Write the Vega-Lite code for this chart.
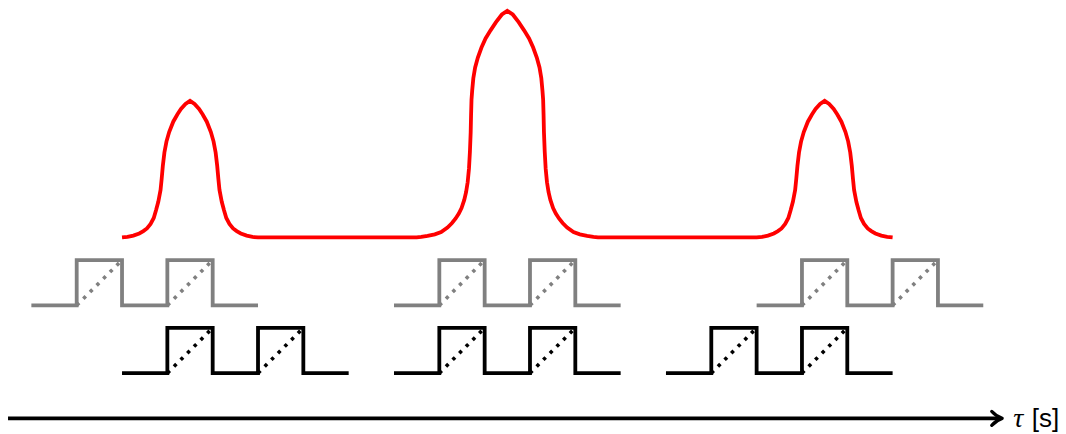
{
  "$schema": "https://vega.github.io/schema/vega-lite/v6.json",
  "width": 1066,
  "height": 434,
  "autosize": {"type": "fit", "contains": "padding"},
  "padding": 0,
  "background": "white",
  "config": {"view": {"stroke": null}},
  "datasets": {
    "red": [
      {"t": -6.0, "v": 3.0}, {"t": -5.88, "v": 3.012}, {"t": -5.75, "v": 3.04}, {"t": -5.62, "v": 3.088},
      {"t": -5.53, "v": 3.14}, {"t": -5.45, "v": 3.2}, {"t": -5.37, "v": 3.3}, {"t": -5.3, "v": 3.43},
      {"t": -5.25, "v": 3.6}, {"t": -5.2, "v": 3.79}, {"t": -5.15, "v": 4.05}, {"t": -5.125, "v": 4.3},
      {"t": -5.1, "v": 4.58}, {"t": -5.065, "v": 4.88}, {"t": -5.02, "v": 5.12}, {"t": -4.96, "v": 5.33},
      {"t": -4.87, "v": 5.56}, {"t": -4.78, "v": 5.72}, {"t": -4.7, "v": 5.84}, {"t": -4.6, "v": 5.95},
      {"t": -4.5, "v": 6.02},
      {"t": -4.4, "v": 5.95}, {"t": -4.3, "v": 5.84}, {"t": -4.22, "v": 5.72}, {"t": -4.13, "v": 5.56},
      {"t": -4.04, "v": 5.33}, {"t": -3.98, "v": 5.12}, {"t": -3.935, "v": 4.88}, {"t": -3.9, "v": 4.58},
      {"t": -3.875, "v": 4.3}, {"t": -3.85, "v": 4.05}, {"t": -3.8, "v": 3.79}, {"t": -3.75, "v": 3.6},
      {"t": -3.7, "v": 3.43}, {"t": -3.63, "v": 3.3}, {"t": -3.55, "v": 3.2}, {"t": -3.47, "v": 3.14},
      {"t": -3.38, "v": 3.088}, {"t": -3.25, "v": 3.04}, {"t": -3.12, "v": 3.012}, {"t": -3.0, "v": 3.0},
      {"t": 0.5, "v": 3.0}, {"t": 0.6, "v": 3.012}, {"t": 0.74, "v": 3.035}, {"t": 0.9, "v": 3.07},
      {"t": 1.04, "v": 3.12}, {"t": 1.18, "v": 3.22}, {"t": 1.28, "v": 3.32}, {"t": 1.36, "v": 3.42},
      {"t": 1.43, "v": 3.53}, {"t": 1.49, "v": 3.65}, {"t": 1.55, "v": 3.83}, {"t": 1.59, "v": 4.0},
      {"t": 1.625, "v": 4.22}, {"t": 1.654, "v": 4.52}, {"t": 1.675, "v": 4.9}, {"t": 1.692, "v": 5.33},
      {"t": 1.7, "v": 5.7}, {"t": 1.71, "v": 6.05}, {"t": 1.725, "v": 6.25}, {"t": 1.75, "v": 6.52},
      {"t": 1.79, "v": 6.76}, {"t": 1.85, "v": 6.98}, {"t": 1.93, "v": 7.2}, {"t": 2.02, "v": 7.4},
      {"t": 2.13, "v": 7.58}, {"t": 2.25, "v": 7.76}, {"t": 2.38, "v": 7.93}, {"t": 2.5, "v": 8.01},
      {"t": 2.62, "v": 7.93}, {"t": 2.75, "v": 7.76}, {"t": 2.87, "v": 7.58}, {"t": 2.98, "v": 7.4},
      {"t": 3.07, "v": 7.2}, {"t": 3.15, "v": 6.98}, {"t": 3.21, "v": 6.76}, {"t": 3.25, "v": 6.52},
      {"t": 3.275, "v": 6.25}, {"t": 3.29, "v": 6.05}, {"t": 3.3, "v": 5.7}, {"t": 3.308, "v": 5.33},
      {"t": 3.325, "v": 4.9}, {"t": 3.346, "v": 4.52}, {"t": 3.375, "v": 4.22}, {"t": 3.41, "v": 4.0},
      {"t": 3.45, "v": 3.83}, {"t": 3.51, "v": 3.65}, {"t": 3.57, "v": 3.53}, {"t": 3.64, "v": 3.42},
      {"t": 3.72, "v": 3.32}, {"t": 3.82, "v": 3.22}, {"t": 3.96, "v": 3.12}, {"t": 4.1, "v": 3.07},
      {"t": 4.26, "v": 3.035}, {"t": 4.4, "v": 3.012}, {"t": 4.5, "v": 3.0},
      {"t": 8.0, "v": 3.0}, {"t": 8.12, "v": 3.012}, {"t": 8.25, "v": 3.04}, {"t": 8.38, "v": 3.088},
      {"t": 8.47, "v": 3.14}, {"t": 8.55, "v": 3.2}, {"t": 8.63, "v": 3.3}, {"t": 8.7, "v": 3.43},
      {"t": 8.75, "v": 3.6}, {"t": 8.8, "v": 3.79}, {"t": 8.85, "v": 4.05}, {"t": 8.875, "v": 4.3},
      {"t": 8.9, "v": 4.58}, {"t": 8.935, "v": 4.88}, {"t": 8.98, "v": 5.12}, {"t": 9.04, "v": 5.33},
      {"t": 9.13, "v": 5.56}, {"t": 9.22, "v": 5.72}, {"t": 9.3, "v": 5.84}, {"t": 9.4, "v": 5.95},
      {"t": 9.5, "v": 6.02},
      {"t": 9.6, "v": 5.95}, {"t": 9.7, "v": 5.84}, {"t": 9.78, "v": 5.72}, {"t": 9.87, "v": 5.56},
      {"t": 9.96, "v": 5.33}, {"t": 10.02, "v": 5.12}, {"t": 10.065, "v": 4.88}, {"t": 10.1, "v": 4.58},
      {"t": 10.125, "v": 4.3}, {"t": 10.15, "v": 4.05}, {"t": 10.2, "v": 3.79}, {"t": 10.25, "v": 3.6},
      {"t": 10.3, "v": 3.43}, {"t": 10.37, "v": 3.3}, {"t": 10.45, "v": 3.2}, {"t": 10.53, "v": 3.14},
      {"t": 10.62, "v": 3.088}, {"t": 10.75, "v": 3.04}, {"t": 10.88, "v": 3.012}, {"t": 11.0, "v": 3.0}
    ],
    "pulses": [
      {"train": "g1", "kind": "gray", "t": -8, "v": 1.5}, {"train": "g1", "kind": "gray", "t": -7, "v": 2.5},
      {"train": "g1", "kind": "gray", "t": -6, "v": 1.5}, {"train": "g1", "kind": "gray", "t": -5, "v": 2.5},
      {"train": "g1", "kind": "gray", "t": -4, "v": 1.5}, {"train": "g1", "kind": "gray", "t": -3, "v": 1.5},
      {"train": "g2", "kind": "gray", "t": 0, "v": 1.5}, {"train": "g2", "kind": "gray", "t": 1, "v": 2.5},
      {"train": "g2", "kind": "gray", "t": 2, "v": 1.5}, {"train": "g2", "kind": "gray", "t": 3, "v": 2.5},
      {"train": "g2", "kind": "gray", "t": 4, "v": 1.5}, {"train": "g2", "kind": "gray", "t": 5, "v": 1.5},
      {"train": "g3", "kind": "gray", "t": 8, "v": 1.5}, {"train": "g3", "kind": "gray", "t": 9, "v": 2.5},
      {"train": "g3", "kind": "gray", "t": 10, "v": 1.5}, {"train": "g3", "kind": "gray", "t": 11, "v": 2.5},
      {"train": "g3", "kind": "gray", "t": 12, "v": 1.5}, {"train": "g3", "kind": "gray", "t": 13, "v": 1.5},
      {"train": "b1", "kind": "black", "t": -6, "v": 0}, {"train": "b1", "kind": "black", "t": -5, "v": 1},
      {"train": "b1", "kind": "black", "t": -4, "v": 0}, {"train": "b1", "kind": "black", "t": -3, "v": 1},
      {"train": "b1", "kind": "black", "t": -2, "v": 0}, {"train": "b1", "kind": "black", "t": -1, "v": 0},
      {"train": "b2", "kind": "black", "t": 0, "v": 0}, {"train": "b2", "kind": "black", "t": 1, "v": 1},
      {"train": "b2", "kind": "black", "t": 2, "v": 0}, {"train": "b2", "kind": "black", "t": 3, "v": 1},
      {"train": "b2", "kind": "black", "t": 4, "v": 0}, {"train": "b2", "kind": "black", "t": 5, "v": 0},
      {"train": "b3", "kind": "black", "t": 6, "v": 0}, {"train": "b3", "kind": "black", "t": 7, "v": 1},
      {"train": "b3", "kind": "black", "t": 8, "v": 0}, {"train": "b3", "kind": "black", "t": 9, "v": 1},
      {"train": "b3", "kind": "black", "t": 10, "v": 0}, {"train": "b3", "kind": "black", "t": 11, "v": 0}
    ],
    "diagonals": [
      {"seg": "g1a", "kind": "gray", "t": -7, "v": 1.5}, {"seg": "g1a", "kind": "gray", "t": -6, "v": 2.5},
      {"seg": "g1b", "kind": "gray", "t": -5, "v": 1.5}, {"seg": "g1b", "kind": "gray", "t": -4, "v": 2.5},
      {"seg": "g2a", "kind": "gray", "t": 1, "v": 1.5}, {"seg": "g2a", "kind": "gray", "t": 2, "v": 2.5},
      {"seg": "g2b", "kind": "gray", "t": 3, "v": 1.5}, {"seg": "g2b", "kind": "gray", "t": 4, "v": 2.5},
      {"seg": "g3a", "kind": "gray", "t": 9, "v": 1.5}, {"seg": "g3a", "kind": "gray", "t": 10, "v": 2.5},
      {"seg": "g3b", "kind": "gray", "t": 11, "v": 1.5}, {"seg": "g3b", "kind": "gray", "t": 12, "v": 2.5},
      {"seg": "b1a", "kind": "black", "t": -5, "v": 0}, {"seg": "b1a", "kind": "black", "t": -4, "v": 1},
      {"seg": "b1b", "kind": "black", "t": -3, "v": 0}, {"seg": "b1b", "kind": "black", "t": -2, "v": 1},
      {"seg": "b2a", "kind": "black", "t": 1, "v": 0}, {"seg": "b2a", "kind": "black", "t": 2, "v": 1},
      {"seg": "b2b", "kind": "black", "t": 3, "v": 0}, {"seg": "b2b", "kind": "black", "t": 4, "v": 1},
      {"seg": "b3a", "kind": "black", "t": 7, "v": 0}, {"seg": "b3a", "kind": "black", "t": 8, "v": 1},
      {"seg": "b3b", "kind": "black", "t": 9, "v": 0}, {"seg": "b3b", "kind": "black", "t": 10, "v": 1}
    ],
    "axisline": [{"t": -8.515, "v": -1.0}, {"t": 13.35, "v": -1.0}],
    "arrowhead": [{"t": 13.325, "v": -1.0}],
    "labels": [
      {"part": "symbol", "text": "τ", "t": 13.66, "v": -1.2},
      {"part": "unit", "text": "[s]", "t": 14.07, "v": -1.2}
    ]
  },
  "encoding": {
    "x": {"field": "t", "type": "quantitative", "scale": {"domain": [-8.692, 14.825], "nice": false, "zero": false}, "axis": null},
    "y": {"field": "v", "type": "quantitative", "scale": {"domain": [-1.324, 8.251], "nice": false, "zero": false}, "axis": null}
  },
  "layer": [
    {
      "data": {"name": "red"},
      "mark": {"type": "line", "color": "#ff0000", "strokeWidth": 3.8, "strokeJoin": "miter", "strokeCap": "butt"}
    },
    {
      "data": {"name": "pulses"},
      "mark": {"type": "line", "interpolate": "step-after", "strokeWidth": 3.8, "strokeJoin": "miter", "strokeCap": "butt"},
      "encoding": {
        "detail": {"field": "train"},
        "color": {"field": "kind", "type": "nominal", "scale": {"domain": ["gray", "black"], "range": ["#808080", "#000000"]}, "legend": null}
      }
    },
    {
      "data": {"name": "diagonals"},
      "mark": {"type": "line", "strokeWidth": 3.6, "strokeDash": [3.4, 6], "strokeCap": "butt"},
      "encoding": {
        "detail": {"field": "seg"},
        "color": {"field": "kind", "type": "nominal", "scale": {"domain": ["gray", "black"], "range": ["#808080", "#000000"]}, "legend": null}
      }
    },
    {
      "data": {"name": "axisline"},
      "mark": {"type": "line", "color": "#000000", "strokeWidth": 3.6, "strokeCap": "butt"}
    },
    {
      "data": {"name": "arrowhead"},
      "mark": {"type": "point", "shape": "M -0.9 -1 Q -0.2 -0.25 0.6 0 Q -0.2 0.25 -0.9 1", "size": 196, "filled": false, "stroke": "#000000", "strokeWidth": 3.2, "strokeCap": "round", "strokeJoin": "round", "opacity": 1}
    },
    {
      "data": {"name": "labels"},
      "transform": [{"filter": "datum.part === 'symbol'"}],
      "mark": {"type": "text", "font": "Liberation Serif", "fontStyle": "italic", "fontSize": 28, "align": "left", "baseline": "alphabetic", "color": "#000000"},
      "encoding": {"text": {"field": "text"}}
    },
    {
      "data": {"name": "labels"},
      "transform": [{"filter": "datum.part === 'unit'"}],
      "mark": {"type": "text", "font": "Liberation Sans", "fontSize": 26, "align": "left", "baseline": "alphabetic", "color": "#000000"},
      "encoding": {"text": {"field": "text"}}
    }
  ]
}
